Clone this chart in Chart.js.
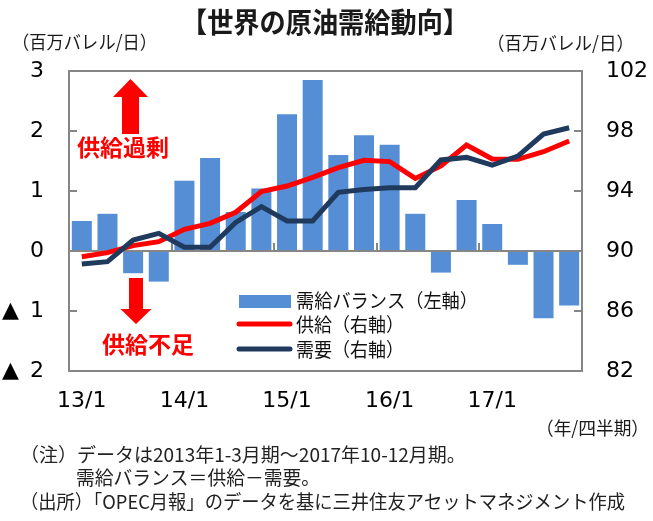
<!DOCTYPE html>
<html>
<head>
<meta charset="utf-8">
<script src="https://cdn.jsdelivr.net/npm/chart.js@4.4.1/dist/chart.umd.min.js"></script>
<style>
  html, body { margin: 0; padding: 0; background: #fff; }
  #wrap { width: 653px; height: 521px; position: relative; }
</style>
</head>
<body>
<div id="wrap"><canvas id="c" width="653" height="521"></canvas></div>
<script>
// 四半期（13/1 = 2013年1-3月期）
var quarters = ['13/1', '13/2', '13/3', '13/4', '14/1', '14/2', '14/3', '14/4',
                '15/1', '15/2', '15/3', '15/4', '16/1', '16/2', '16/3', '16/4',
                '17/1', '17/2', '17/3', '17/4'];
// 需給バランス（左軸, 百万バレル/日）
var balance = [0.50, 0.62, -0.37, -0.51, 1.17, 1.55, 0.65, 1.04, 2.28, 2.85,
               1.60, 1.93, 1.77, 0.62, -0.36, 0.85, 0.45, -0.23, -1.12, -0.91];
// 供給（右軸）
var supply = [89.62, 89.89, 90.36, 90.62, 91.45, 91.84, 92.58, 93.96, 94.33, 94.91,
              95.56, 96.05, 95.96, 94.84, 95.67, 97.07, 96.13, 96.11, 96.62, 97.33];
// 需要（右軸）
var demand = [89.13, 89.29, 90.73, 91.18, 90.25, 90.25, 91.90, 92.96, 92.00, 92.00,
              93.91, 94.10, 94.22, 94.22, 96.07, 96.24, 95.73, 96.33, 97.80, 98.22];
var seriesNames = ['需給バランス（左軸）', '供給（右軸）', '需要（右軸）'];
var leftTicks = [-2, -1, 0, 1, 2, 3];
var rightTicks = [82, 86, 90, 94, 98, 102];

var JP = '"Noto Sans CJK JP", "Noto Sans", sans-serif';
var NUM = '"DejaVu Sans", Verdana, sans-serif';
var BLUE = '#558ED5', RED = '#FF0000', NAVY = '#1F3A5C', FRAME = '#868686';

// 枠・ゼロ線・目盛り（棒の後、折れ線の前に描く）
var framePlugin = {
    id: 'frame',
    afterDatasetDraw: function (chart, args) {
        if (args.index !== 0) return;
        var ctx = chart.ctx, a = chart.chartArea;
        var y = chart.scales.y, y1 = chart.scales.y1, x = chart.scales.x;
        ctx.save();
        ctx.strokeStyle = FRAME;
        ctx.lineWidth = 2;
        ctx.strokeRect(a.left, a.top, a.right - a.left, a.bottom - a.top);
        var y0 = Math.round(y.getPixelForValue(0));
        ctx.beginPath();
        ctx.moveTo(a.left, y0); ctx.lineTo(a.right, y0);
        leftTicks.forEach(function (v) {
            var p = Math.round(y.getPixelForValue(v));
            ctx.moveTo(a.left, p); ctx.lineTo(a.left + 8, p);
        });
        rightTicks.forEach(function (v) {
            var p = Math.round(y1.getPixelForValue(v));
            ctx.moveTo(a.right, p); ctx.lineTo(a.right - 8, p);
        });
        for (var i = 4; i < quarters.length; i += 4) {
            var px = Math.round((x.getPixelForValue(i - 1) + x.getPixelForValue(i)) / 2);
            ctx.moveTo(px, y0); ctx.lineTo(px, y0 - 8);
        }
        ctx.stroke();
        ctx.restore();
    }
};

function upArrow(ctx, cx, top, headBase, bottom, headW, shaftW) {
    ctx.beginPath();
    ctx.moveTo(cx, top);
    ctx.lineTo(cx + headW / 2, headBase);
    ctx.lineTo(cx + shaftW / 2, headBase);
    ctx.lineTo(cx + shaftW / 2, bottom);
    ctx.lineTo(cx - shaftW / 2, bottom);
    ctx.lineTo(cx - shaftW / 2, headBase);
    ctx.lineTo(cx - headW / 2, headBase);
    ctx.closePath();
    ctx.fill();
}

// 見出し・注記・凡例・矢印
var textPlugin = {
    id: 'texts',
    afterDraw: function (chart) {
        var ctx = chart.ctx;
        ctx.save();
        ctx.textBaseline = 'middle';

        ctx.fillStyle = '#1a1a1a';
        ctx.font = 'bold 28px ' + JP;
        ctx.textAlign = 'center';
        ctx.fillText('【世界の原油需給動向】', 325, 22, 288);

        ctx.font = '18.5px ' + JP;
        ctx.textAlign = 'left';
        ctx.fillText('（百万バレル/日）', 12, 42, 145);
        ctx.fillText('（百万バレル/日）', 487, 43, 147);
        ctx.fillText('（年/四半期）', 536, 428, 113);

        ctx.font = '19px ' + JP;
        ctx.fillStyle = '#222';
        ctx.fillText('（注）データは2013年1-3月期～2017年10-12月期。', 20, 455, 482);
        ctx.fillText('需給バランス＝供給－需要。', 76, 478, 244);
        ctx.fillText('（出所）「OPEC月報」のデータを基に三井住友アセットマネジメント作成', 20, 502, 605);

        // 凡例
        ctx.fillStyle = BLUE;
        ctx.fillRect(239, 295, 52, 13);
        ctx.lineCap = 'round';
        ctx.lineWidth = 5;
        ctx.strokeStyle = RED;
        ctx.beginPath(); ctx.moveTo(239, 324); ctx.lineTo(290, 324); ctx.stroke();
        ctx.strokeStyle = NAVY;
        ctx.beginPath(); ctx.moveTo(239, 349); ctx.lineTo(290, 349); ctx.stroke();
        ctx.fillStyle = '#111';
        ctx.font = '19px ' + JP;
        ctx.fillText(seriesNames[0], 296, 301, 182);
        ctx.fillText(seriesNames[1], 296, 325, 108);
        ctx.fillText(seriesNames[2], 296, 350, 108);

        // 矢印と注記
        ctx.fillStyle = RED;
        upArrow(ctx, 130.5, 79, 97, 134, 35, 17);
        ctx.save();
        ctx.translate(0, 602);
        ctx.scale(1, -1);
        upArrow(ctx, 136, 602 - 324, 602 - 309, 602 - 278, 31, 14);
        ctx.restore();
        ctx.font = 'bold 23px ' + JP;
        ctx.fillText('供給過剰', 77, 147, 94);
        ctx.fillText('供給不足', 102, 344, 95);

        ctx.restore();
    }
};

new Chart(document.getElementById('c'), {
    type: 'bar',
    data: {
        labels: quarters,
        datasets: [{
            type: 'bar',
            label: seriesNames[0],
            data: balance,
            backgroundColor: BLUE,
            yAxisID: 'y',
            barPercentage: 0.78,
            categoryPercentage: 1.0,
            order: 3
        }, {
            type: 'line',
            label: seriesNames[1],
            data: supply,
            borderColor: RED,
            borderWidth: 5,
            pointRadius: 0,
            tension: 0,
            yAxisID: 'y1',
            order: 2
        }, {
            type: 'line',
            label: seriesNames[2],
            data: demand,
            borderColor: NAVY,
            borderWidth: 5,
            pointRadius: 0,
            tension: 0,
            yAxisID: 'y1',
            order: 1
        }]
    },
    options: {
        responsive: false,
        animation: false,
        devicePixelRatio: 1,
        layout: { padding: { top: 71, left: 0, right: 0, bottom: 0 } },
        plugins: {
            legend: { display: false },
            tooltip: { enabled: false },
            title: { display: false }
        },
        scales: {
            x: {
                grid: { display: false, drawTicks: false },
                border: { display: false },
                ticks: {
                    autoSkip: false,
                    maxRotation: 0,
                    padding: 17,
                    color: '#000',
                    font: { family: NUM, size: 22 },
                    callback: function (v, i) {
                        return i % 4 === 0 ? quarters[i] : '';
                    }
                },
                afterFit: function (s) { s.height = 150; }
            },
            y: {
                position: 'left',
                min: -2,
                max: 3,
                grid: { display: false, drawTicks: false },
                border: { display: false },
                afterBuildTicks: function (s) {
                    s.ticks = leftTicks.map(function (v) { return { value: v }; });
                },
                ticks: {
                    padding: 25,
                    color: '#000',
                    font: { family: NUM, size: 22 },
                    callback: function (v) { return v < 0 ? '▲\u2002' + (-v) : String(v); }
                },
                afterFit: function (s) { s.width = 69; }
            },
            y1: {
                position: 'right',
                min: 82,
                max: 102,
                grid: { display: false, drawTicks: false },
                border: { display: false },
                afterBuildTicks: function (s) {
                    s.ticks = rightTicks.map(function (v) { return { value: v }; });
                },
                ticks: {
                    padding: 24,
                    color: '#000',
                    font: { family: NUM, size: 22 }
                },
                afterFit: function (s) { s.width = 71; }
            }
        }
    },
    plugins: [framePlugin, textPlugin]
});
</script>
</body>
</html>
